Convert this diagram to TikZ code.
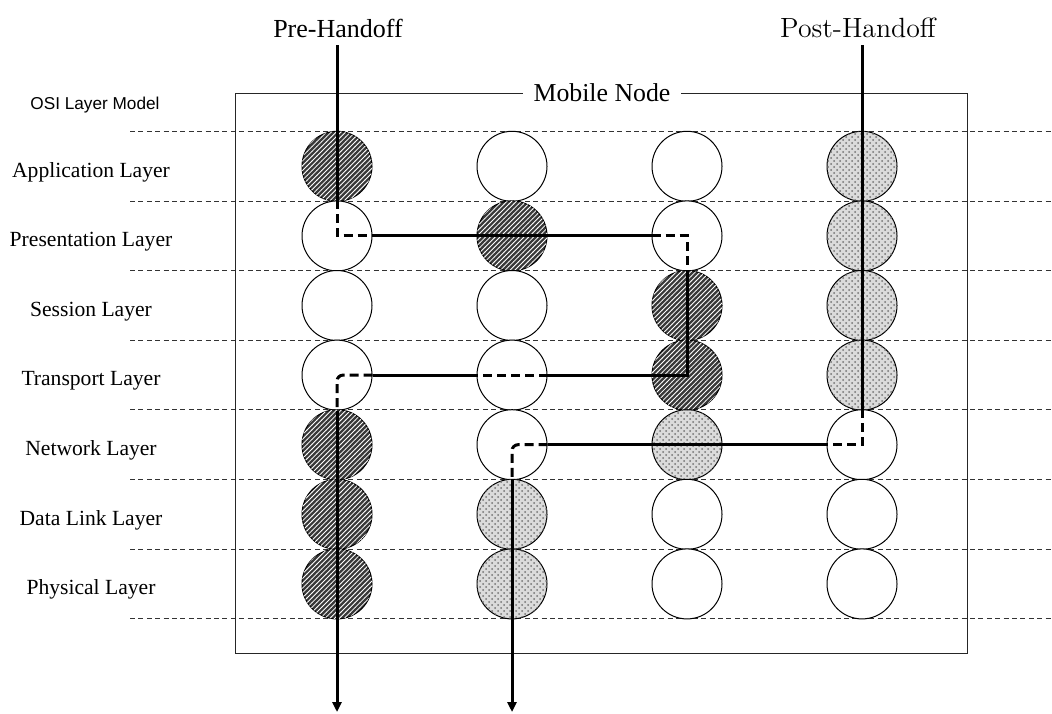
\documentclass[tikz,border=0pt]{standalone}
\usepackage{fontspec}
\newfontfamily\timesfont{Liberation Serif}
\newfontfamily\arialfont{Liberation Sans}
\usetikzlibrary{patterns,arrows.meta}

\pgfdeclarepatternformonly{fine hatch}{\pgfqpoint{-1pt}{-1pt}}{\pgfqpoint{3.4pt}{3.4pt}}{\pgfqpoint{2.4pt}{2.4pt}}{
	\pgfsetlinewidth{0.4pt}
	\pgfpathmoveto{\pgfqpoint{-0.1pt}{-0.1pt}}
	\pgfpathlineto{\pgfqpoint{2.5pt}{2.5pt}}
	\pgfusepath{stroke}
}

\tikzset{
	layercirc/.style={circle, draw, line width=0.5pt, minimum size=35pt, inner sep=0pt, fill=white},
	prelayer/.style={fill=black!78, postaction={pattern=fine hatch, pattern color=white}},
	postlayer/.style={fill=black!14, postaction={pattern=crosshatch dots, pattern color=black!55}},
	freelayer/.style={fill=white},
	route/.style={line width=1.5pt},
	hop/.style={line width=1.5pt, dash pattern=on 4.5pt off 2.5pt},
	rowline/.style={line width=0.45pt, black!80, dash pattern=on 2.5pt off 1.7pt},
	laylabel/.style={font=\timesfont\fontsize{10.8}{13}\selectfont}
}

\begin{document}
\begin{tikzpicture}[x=0.5pt, y=-0.5pt]
		\useasboundingbox (0,0) rectangle (1052,713);
		
		%layer lines
		\foreach \k in {0, 1, ..., 7}{
			\draw[rowline] (130, 131.5+69.6*\k) -- (1052, 131.5+69.6*\k);
		}
		
		%mobile node box
		\draw[line width=0.5pt, black!85] (235,93) rectangle (967,653);
		\node[fill=white, inner xsep=5.5pt, inner ysep=1pt, font=\timesfont\fontsize{12.9}{15}\selectfont] (mobile) at (602,93) {Mobile Node};
		
		%layer names
		\node[font=\arialfont\fontsize{8.6}{10}\selectfont] (osi) at (95,105) {OSI Layer Model};
		\foreach \name [count=\r] in {Application Layer, Presentation Layer, Session Layer, Transport Layer, Network Layer, Data Link Layer, Physical Layer}{
			\node[laylabel] (lab\r) at (91, 172+69.6*\r-69.6) {\name};
		}
		
		%layer circles
		\foreach \kinds [count=\r] in {
			{prelayer,freelayer,freelayer,postlayer},
			{freelayer,prelayer,freelayer,postlayer},
			{freelayer,freelayer,prelayer,postlayer},
			{freelayer,freelayer,prelayer,postlayer},
			{prelayer,freelayer,postlayer,freelayer},
			{prelayer,postlayer,freelayer,freelayer},
			{prelayer,postlayer,freelayer,freelayer}}{
			\foreach \kind [count=\c] in \kinds{
				\node[layercirc, \kind] (c-\r-\c) at (337+175*\c-175, 166.3+69.6*\r-69.6) {};
			}
		}
		
		%handoff labels
		\node[font=\timesfont\fontsize{13}{15}\selectfont] (pre) at (338,28) {Pre-Handoff};
		\node[font=\fontsize{13.9}{16}\selectfont] (post) at (858,28) {Post-Handoff};
		\coordinate (prestart) at (337,45);
		\coordinate (poststart) at (862,45);
		\coordinate (preend) at (337,712);
		\coordinate (postend) at (512,712);
		
		%pre-handoff route
		\draw[route] (prestart) -- (c-2-1.north);
		\draw[hop] (c-2-1.north) -- (c-2-1.center) -- (c-2-1.east);
		\draw[route] (c-2-1.east) -- (c-2-3.west);
		\draw[hop] (c-2-3.west) -- (c-2-3.center) -- (c-2-3.south);
		\draw[route] (c-2-3.south) -- (c-4-3.center) -- (c-4-2.east);
		\draw[hop] (c-4-2.east) -- (c-4-2.west);
		\draw[route] (c-4-2.west) -- (c-4-1.east);
		\draw[hop, rounded corners=3pt] (c-4-1.east) -- (c-4-1.center) -- (c-4-1.south);
		\draw[route, -{Triangle[width=4.5pt, length=5pt]}] (c-4-1.south) -- (preend);
		
		%post-handoff route
		\draw[route] (poststart) -- (c-5-4.north);
		\draw[hop] (c-5-4.north) -- (c-5-4.center) -- (c-5-4.west);
		\draw[route] (c-5-4.west) -- (c-5-2.east);
		\draw[hop, rounded corners=3pt] (c-5-2.east) -- (c-5-2.center) -- (c-5-2.south);
		\draw[route, -{Triangle[width=4.5pt, length=5pt]}] (c-5-2.south) -- (postend);
\end{tikzpicture}
\end{document}
